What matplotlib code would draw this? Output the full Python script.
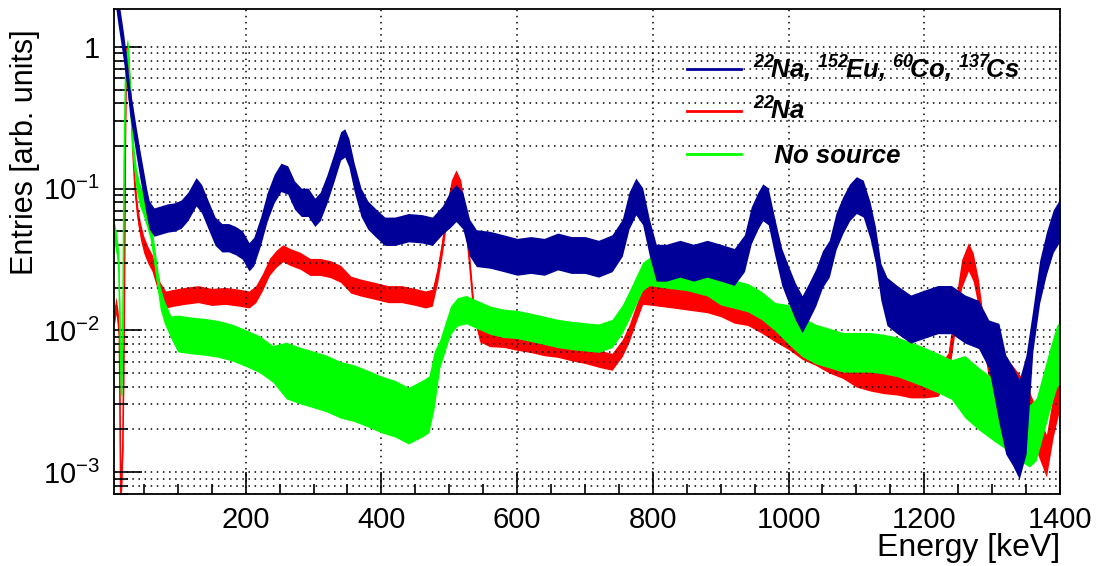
import numpy as np
import matplotlib.pyplot as plt
from matplotlib.ticker import MultipleLocator, FixedLocator, LogLocator, NullFormatter

plt.rcParams['font.family'] = ['Liberation Sans', 'DejaVu Sans']
plt.rcParams['mathtext.fontset'] = 'custom'
plt.rcParams['mathtext.rm'] = 'Liberation Sans'
plt.rcParams['mathtext.it'] = 'Liberation Sans:italic'
plt.rcParams['mathtext.bf'] = 'Liberation Sans:bold:italic'

# 22Na + 152Eu + 60Co + 137Cs (keV / arb. units)
blue_e = [6, 9, 12, 16, 20, 25, 29, 34, 39, 44,
          49, 54, 58, 65, 75, 85, 95, 105, 115, 127,
          135, 145, 155, 165, 175, 185, 195, 205, 212, 222,
          232, 242, 252, 262, 272, 282, 292, 302, 310, 320,
          330, 340, 346, 352, 360, 370, 380, 392, 405, 420,
          440, 460, 475, 490, 502, 510, 520, 530, 540, 560,
          580, 600, 620, 640, 660, 680, 700, 720, 740, 755,
          765, 775, 785, 795, 805, 820, 840, 860, 880, 900,
          920, 935, 945, 955, 962, 970, 980, 990, 1000, 1010,
          1020, 1030, 1040, 1050, 1060, 1070, 1080, 1090, 1100, 1110,
          1120, 1128, 1136, 1145, 1160, 1180, 1200, 1220, 1240, 1260,
          1280, 1295, 1310, 1320, 1330, 1340, 1350, 1360, 1370, 1380,
          1390, 1400]
blue_y = [3.0, 2.3, 1.8, 1.35, 1.0, 0.65, 0.42, 0.3, 0.21, 0.15,
          0.11, 0.08, 0.065, 0.058, 0.06, 0.062, 0.063, 0.066, 0.075, 0.095,
          0.085, 0.065, 0.05, 0.045, 0.045, 0.043, 0.04, 0.033, 0.036, 0.05,
          0.075, 0.1, 0.12, 0.115, 0.09, 0.08, 0.08, 0.068, 0.075, 0.1,
          0.14, 0.2, 0.21, 0.18, 0.12, 0.08, 0.065, 0.057, 0.05, 0.05,
          0.053, 0.052, 0.05, 0.06, 0.072, 0.079, 0.07, 0.045, 0.038, 0.037,
          0.035, 0.033, 0.034, 0.033, 0.036, 0.034, 0.034, 0.032, 0.035, 0.045,
          0.07, 0.088, 0.075, 0.045, 0.03, 0.03, 0.032, 0.03, 0.032, 0.03,
          0.028, 0.035, 0.055, 0.07, 0.08, 0.075, 0.045, 0.028, 0.021, 0.016,
          0.013, 0.016, 0.02, 0.027, 0.032, 0.05, 0.065, 0.08, 0.09, 0.085,
          0.06, 0.04, 0.022, 0.016, 0.014, 0.012, 0.013, 0.014, 0.014, 0.012,
          0.011, 0.008, 0.005, 0.003, 0.0025, 0.002, 0.003, 0.01, 0.022, 0.035,
          0.05, 0.06]
# half width of the noise band (decades), per energy range
blue_sp_from = [0, 500, 1140, 1300, 1355]
blue_sp = [0.1, 0.13, 0.17, 0.35, 0.15]

# 22Na only
red_e = [6, 9, 12, 14, 16, 19, 21, 23, 24.5, 27,
         30, 32, 34, 37, 41, 45, 50, 56, 62, 68,
         74, 82, 95, 110, 130, 150, 170, 190, 205, 215,
         225, 235, 245, 255, 265, 280, 295, 310, 325, 340,
         355, 370, 390, 410, 430, 450, 465, 475, 483, 490,
         497, 503, 510, 517, 524, 530, 536, 545, 560, 580,
         600, 620, 640, 660, 680, 700, 720, 740, 755, 765,
         775, 785, 800, 820, 840, 860, 880, 900, 920, 940,
         960, 980, 1000, 1020, 1040, 1060, 1080, 1100, 1120, 1140,
         1160, 1180, 1200, 1220, 1235, 1245, 1255, 1265, 1272, 1280,
         1288, 1296, 1310, 1330, 1350, 1365, 1380, 1390, 1400]
red_y = [0.012, 0.015, 0.012, 0.009, 0.0006, 0.0015, 0.01, 0.3, 1.0, 0.8,
         0.5, 0.34, 0.18, 0.1, 0.065, 0.05, 0.04, 0.034, 0.03, 0.024,
         0.019, 0.0165, 0.017, 0.0175, 0.018, 0.0172, 0.0175, 0.017, 0.0165, 0.018,
         0.022, 0.028, 0.032, 0.035, 0.033, 0.031, 0.028, 0.028, 0.027, 0.025,
         0.021, 0.02, 0.019, 0.018, 0.018, 0.0172, 0.0165, 0.017, 0.025, 0.04,
         0.07, 0.1, 0.118, 0.1, 0.06, 0.03, 0.014, 0.0095, 0.0088, 0.0087,
         0.0083, 0.008, 0.0076, 0.0074, 0.007, 0.0067, 0.0063, 0.006, 0.0075, 0.0095,
         0.013, 0.0175, 0.018, 0.0175, 0.017, 0.0165, 0.016, 0.015, 0.0135, 0.013,
         0.0115, 0.01, 0.0088, 0.0075, 0.0068, 0.006, 0.0055, 0.005, 0.0047, 0.0045,
         0.0044, 0.0042, 0.0042, 0.0043, 0.0055, 0.012, 0.025, 0.033, 0.028, 0.018,
         0.009, 0.006, 0.005, 0.004, 0.003, 0.002, 0.0013, 0.0025, 0.004]
red_sp_from = [0, 790, 1100, 1290]
red_sp = [0.06, 0.08, 0.1, 0.15]

# no source
green_e = [6, 10, 13, 15, 17, 19, 21, 23, 26, 28,
           31, 34, 39, 44, 49, 54, 59, 64, 69, 74,
           80, 90, 100, 120, 140, 160, 180, 200, 220, 240,
           260, 280, 300, 320, 340, 360, 380, 400, 420, 440,
           460, 470, 478, 486, 494, 502, 512, 525, 540, 560,
           580, 600, 620, 640, 660, 680, 700, 720, 740, 755,
           765, 775, 785, 795, 820, 850, 880, 900, 920, 940,
           960, 980, 1000, 1020, 1040, 1060, 1080, 1100, 1120, 1140,
           1160, 1180, 1200, 1220, 1240, 1260, 1280, 1300, 1320, 1340,
           1355, 1365, 1375, 1385, 1395, 1400]
green_y = [0.05, 0.04, 0.03, 0.01, 0.0035, 0.01, 0.15, 0.6, 0.95, 0.8,
           0.35, 0.19, 0.115, 0.09, 0.078, 0.065, 0.054, 0.038, 0.025, 0.017,
           0.0135, 0.0105, 0.0095, 0.0092, 0.009, 0.0087, 0.0082, 0.0075, 0.0068, 0.0058,
           0.0052, 0.0048, 0.0045, 0.0042, 0.0038, 0.0036, 0.0033, 0.003, 0.0028, 0.0025,
           0.0028, 0.003, 0.0045, 0.0068, 0.009, 0.0118, 0.0135, 0.014, 0.013, 0.0118,
           0.0112, 0.011, 0.0105, 0.01, 0.0095, 0.0092, 0.009, 0.0088, 0.0095, 0.012,
           0.015, 0.019, 0.024, 0.026, 0.025, 0.024, 0.022, 0.019, 0.018, 0.017,
           0.015, 0.0125, 0.011, 0.009, 0.008, 0.0075, 0.007, 0.007, 0.007, 0.0068,
           0.0065, 0.006, 0.0055, 0.005, 0.0045, 0.004, 0.0033, 0.0028, 0.0024, 0.002,
           0.0018, 0.002, 0.003, 0.0045, 0.0065, 0.007]
green_sp_from = [0, 100, 250, 480, 1000, 1250]
green_sp = [0.08, 0.13, 0.2, 0.1, 0.14, 0.22]

legend_labels = [r'$^{\mathbf{22}}\!$Na, $^{\mathbf{152}}\!$Eu, $^{\mathbf{60}}\!$Co, $^{\mathbf{137}}\!$Cs',
                 r'$^{\mathbf{22}}\!$Na',
                 '   No source']
colors = ['#000099', '#ff0000', '#00ff00']

y_ticks = [1e-3, 1e-2, 1e-1, 1]
y_ticklabels = [r'$10^{-3}$', r'$10^{-2}$', r'$10^{-1}$', '1']


def draw_band(ax, e, y, sp_from, sp, color, z):
    e = np.asarray(e, dtype=float)
    y = np.asarray(y, dtype=float)
    w = np.asarray(sp)[np.searchsorted(sp_from, e, side='right') - 1]
    ax.fill_between(e, y * 10 ** (-w), y * 10 ** w, color=color, lw=0, zorder=z)
    ax.plot(e, y, color=color, lw=1.2, zorder=z)


fig = plt.figure(figsize=(11.01, 5.66), dpi=100)
ax = fig.add_axes([114 / 1101, 72 / 566, 946 / 1101, 485 / 566])

draw_band(ax, red_e, red_y, red_sp_from, red_sp, colors[1], 2)
draw_band(ax, green_e, green_y, green_sp_from, green_sp, colors[2], 3)
draw_band(ax, blue_e, blue_y, blue_sp_from, blue_sp, colors[0], 4)

ax.set_yscale('log')
ax.set_xlim(6, 1400)
ax.set_ylim(7e-4, 1.85)

ax.xaxis.set_major_locator(MultipleLocator(200))
ax.xaxis.set_minor_locator(MultipleLocator(50))
ax.yaxis.set_major_locator(FixedLocator(y_ticks))
ax.set_yticklabels(y_ticklabels)
ax.yaxis.set_minor_locator(LogLocator(base=10, subs=np.arange(2, 10)))
ax.yaxis.set_minor_formatter(NullFormatter())

ax.tick_params(which='both', direction='in', top=False, right=False, width=1.2, labelsize=21)
ax.tick_params(axis='y', which='major', length=20, pad=10)
ax.tick_params(axis='y', which='minor', length=10)
ax.tick_params(axis='x', which='major', length=16, pad=9)
ax.tick_params(axis='x', which='minor', length=7)

grid_style = dict(color='black', linestyle=(0, (1, 3)), linewidth=1.1, zorder=6)
ax.grid(True, which='major', axis='both', **grid_style)
ax.grid(True, which='minor', axis='y', **grid_style)
ax.set_axisbelow(False)
for sp in ax.spines.values():
    sp.set_linewidth(1.3)
    sp.set_zorder(7)

ax.set_xlabel('Energy [keV]', fontsize=23, loc='right')
ax.xaxis.set_label_coords(1.0, -0.08)
ax.set_ylabel('Entries [arb. units]', fontsize=22, loc='top')
ax.yaxis.set_label_coords(-0.078, 0.957)

# legend drawn by hand, ROOT style (no frame)
rows = [0.876, 0.79, 0.702]
for lab, col, yy in zip(legend_labels, colors, rows):
    ax.plot([0.606, 0.663], [yy, yy], color=col, lw=2, transform=ax.transAxes,
            zorder=8, clip_on=False)
    ax.text(0.6755, yy - 0.0186, lab, transform=ax.transAxes, fontsize=18.5,
            fontweight='bold', fontstyle='italic', va='baseline', ha='left', zorder=8)

fig.savefig('out.png', dpi=100)
